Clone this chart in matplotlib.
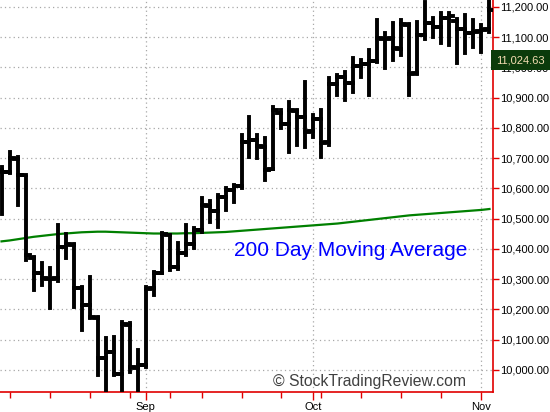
import matplotlib
matplotlib.use("Agg")
import matplotlib.pyplot as plt
from matplotlib.ticker import FuncFormatter, FixedLocator
import numpy as np

plt.rcParams['font.family'] = ['Liberation Sans', 'DejaVu Sans']

# trading days, Aug 6 .. Nov 2
dates = ['08-06', '08-09', '08-10', '08-11', '08-12', '08-13', '08-16', '08-17', '08-18', '08-19',
         '08-20', '08-23', '08-24', '08-25', '08-26', '08-27', '08-30', '08-31', '09-01', '09-02',
         '09-03', '09-07', '09-08', '09-09', '09-10', '09-13', '09-14', '09-15', '09-16', '09-17',
         '09-20', '09-21', '09-22', '09-23', '09-24', '09-27', '09-28', '09-29', '09-30', '10-01',
         '10-04', '10-05', '10-06', '10-07', '10-08', '10-11', '10-12', '10-13', '10-14', '10-15',
         '10-18', '10-19', '10-20', '10-21', '10-22', '10-25', '10-26', '10-27', '10-28', '10-29',
         '11-01', '11-02']
week_starts = ['08-09', '08-16', '08-23', '08-30', '09-07', '09-13', '09-20', '09-27',
               '10-04', '10-11', '10-18', '10-25', '11-01']
month_starts = ['09-01', '10-01', '11-01']
month_labels = ['Sep', 'Oct', 'Nov']

opens = [10660, 10653, 10698, 10643, 10370, 10320, 10302, 10303, 10405, 10413,
         10270, 10215, 10173, 10040, 10060, 9986, 10148, 10006, 10016, 10270,
         10322, 10446, 10341, 10388, 10416, 10464, 10543, 10525, 10571, 10595,
         10608, 10753, 10760, 10738, 10664, 10850, 10812, 10857, 10836, 10789,
         10828, 10752, 10944, 10968, 10947, 11006, 11010, 11022, 11095, 11096,
         11062, 11141, 10980, 11108, 11146, 11134, 11163, 11155, 11127, 11113,
         11120, 11126]
highs = [10670, 10720, 10705, 10638, 10372, 10352, 10337, 10478, 10450, 10415,
         10274, 10307, 10175, 10106, 10109, 10159, 10155, 10066, 10275, 10324,
         10453, 10446, 10420, 10479, 10469, 10569, 10560, 10578, 10600, 10612,
         10777, 10836, 10777, 10767, 10869, 10860, 10886, 10860, 10952, 10843,
         10860, 10965, 10975, 10985, 11031, 11025, 11058, 11157, 11114, 11147,
         11157, 11142, 11150, 11215, 11164, 11180, 11180, 11160, 11174, 11157,
         11140, 11245]
lows = [10515, 10650, 10545, 10362, 10265, 10281, 10205, 10293, 10370, 10208,
        10132, 10172, 9984, 9935, 9983, 9935, 9993, 9935, 10010, 10248,
        10322, 10331, 10335, 10380, 10403, 10456, 10489, 10473, 10529, 10555,
        10602, 10704, 10701, 10628, 10664, 10800, 10721, 10744, 10737, 10770,
        10704, 10744, 10909, 10893, 10919, 10969, 10909, 11018, 10998, 11025,
        11040, 10909, 10978, 11095, 11101, 11081, 11074, 11015, 11048, 11068,
        11051, 11117]
closes = [10653, 10699, 10644, 10379, 10320, 10303, 10302, 10406, 10416, 10271,
          10214, 10174, 10040, 10060, 9986, 10151, 10010, 10015, 10269, 10320,
          10448, 10341, 10387, 10415, 10463, 10544, 10526, 10573, 10595, 10608,
          10754, 10761, 10739, 10662, 10860, 10812, 10858, 10835, 10788, 10830,
          10751, 10945, 10968, 10949, 11006, 11010, 11020, 11096, 11095, 11063,
          11144, 10979, 11108, 11147, 11133, 11164, 11169, 11126, 11114, 11118,
          11125, 11189]
ma200 = [10425, 10428, 10432, 10436, 10440, 10443, 10446, 10449, 10451, 10453,
         10455, 10456, 10457, 10457, 10456, 10455, 10454, 10453, 10452, 10451,
         10451, 10451, 10451, 10452, 10452, 10453, 10454, 10455, 10456, 10458,
         10460, 10462, 10464, 10466, 10468, 10470, 10472, 10474, 10476, 10478,
         10480, 10482, 10484, 10487, 10490, 10493, 10496, 10499, 10502, 10505,
         10508, 10511, 10513, 10515, 10517, 10519, 10521, 10523, 10525, 10527,
         10529, 10532]
last_price = 11024.63
price_ticks = [10000, 10100, 10200, 10300, 10400, 10500, 10600, 10700, 10800,
               10900, 11000, 11100, 11200]

red = '#e00000'
x = np.arange(len(dates))

fig = plt.figure(figsize=(5.5, 4.12), dpi=100)
ax = fig.add_axes([0, 20 / 412, 493 / 550, 392 / 412])

# grid
ax.set_yticks(price_ticks)
for p in price_ticks:
    ax.axhline(p, color='#a8a8a8', lw=0.9, ls=(0, (1, 2.5)), zorder=0)
for m in month_starts:
    ax.axvline(dates.index(m), color='#a8a8a8', lw=0.9, ls=(0, (1, 2.5)), zorder=0)

# OHLC bars
w = 0.5
lw = 2.8
ax.vlines(x, lows, highs, color='black', lw=lw, capstyle='projecting', zorder=3)
ax.hlines(opens, x - w, x, color='black', lw=lw, capstyle='projecting', zorder=3)
ax.hlines(closes, x, x + w, color='black', lw=lw, capstyle='projecting', zorder=3)

ax.plot(x, ma200, color='#008000', lw=1.6, zorder=2)

ax.text(0.475, 0.36, '200 Day Moving Average', transform=ax.transAxes,
        color='#0000ff', fontsize=15, ha='left', va='center')
ax.text(0.553, 0.028, '\u00a9 StockTradingReview.com', transform=ax.transAxes,
        color='#404040', fontsize=11.3, ha='left', va='center')

ax.set_xlim(-0.19, 61.44)
ax.set_ylim(9927, 11223)

ax.yaxis.tick_right()
ax.yaxis.set_major_formatter(FuncFormatter(lambda v, pos: f'{v:,.2f}'))
ax.tick_params(axis='y', colors=red, labelcolor='black', labelsize=8, length=4,
               width=1, pad=1, direction='out')

ax.xaxis.set_major_locator(FixedLocator([dates.index(m) for m in month_starts]))
ax.set_xticklabels(month_labels)
ax.xaxis.set_minor_locator(FixedLocator([dates.index(d) for d in week_starts]))
ax.tick_params(axis='x', which='both', colors=red, labelcolor='black', labelsize=8,
               width=1, pad=1, direction='out')
ax.tick_params(axis='x', which='major', length=6)
ax.tick_params(axis='x', which='minor', length=4)

for side in ['left', 'top']:
    ax.spines[side].set_visible(False)
for side in ['right', 'bottom']:
    ax.spines[side].set_color(red)
    ax.spines[side].set_linewidth(1.2)

# last price tag
ax.annotate(f'{last_price:,.2f}', xy=(1, last_price), xycoords=('axes fraction', 'data'),
            xytext=(2.2, 0), textcoords='offset points', fontsize=8, color='#f5deb3',
            ha='left', va='center',
            bbox=dict(boxstyle='square,pad=0.45', fc='#0b3b0b', ec='none'))

fig.savefig('out.png', dpi=100, facecolor='white')
